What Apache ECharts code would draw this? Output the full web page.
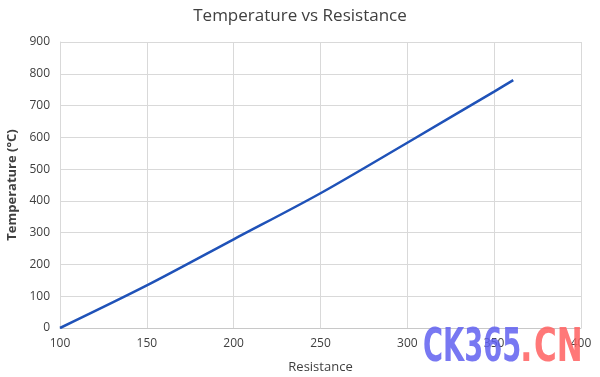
<!DOCTYPE html>
<html>
<head>
<meta charset="utf-8">
<script src="https://cdn.jsdelivr.net/npm/echarts@6/dist/echarts.min.js"></script>
<style>
  html, body { margin: 0; padding: 0; background: #fff; }
  #chart { width: 600px; height: 377px; }
</style>
</head>
<body>
<div id="chart"></div>
<script>
// readings
const resistance = [100, 150, 200, 250, 300, 350, 361];
const temperature = [0, 134, 279, 424, 583, 744, 780];

const xTicks = [100, 150, 200, 250, 300, 350, 400];
const yTicks = [0, 100, 200, 300, 400, 500, 600, 700, 800, 900];

const labelFont = 'Open Sans';
const markFont = 'DejaVu Sans Condensed';

const chart = echarts.init(document.getElementById('chart'));

function markText(text, x, scaleX, fill) {
  return {
    type: 'text',
    x: x,
    y: 349,
    scaleX: scaleX,
    z: 10,
    style: {
      text: text,
      fontFamily: markFont,
      fontWeight: 'bold',
      fontSize: 46,
      verticalAlign: 'middle',
      fill: fill
    }
  };
}

chart.setOption({
  animation: false,
  title: {
    text: 'Temperature vs Resistance',
    left: 'center',
    top: 3,
    textStyle: {
      fontFamily: labelFont,
      fontSize: 17,
      fontWeight: 'normal',
      color: '#404040'
    }
  },
  grid: {
    left: 60,
    right: 19,
    top: 42,
    bottom: 49,
    outerBoundsMode: 'none'
  },
  xAxis: {
    type: 'value',
    min: xTicks[0],
    max: xTicks[xTicks.length - 1],
    interval: 50,
    name: 'Resistance',
    nameLocation: 'center',
    nameGap: 33,
    nameTextStyle: {
      fontFamily: labelFont,
      fontSize: 13,
      color: '#404040'
    },
    axisLabel: {
      fontFamily: labelFont,
      fontSize: 12,
      color: '#404040',
      margin: 10
    },
    axisTick: { show: false },
    axisLine: { lineStyle: { color: '#c8c8c8', width: 1 } },
    splitLine: { show: true, lineStyle: { color: '#d9d9d9', width: 1 } }
  },
  yAxis: {
    type: 'value',
    min: yTicks[0],
    max: yTicks[yTicks.length - 1],
    interval: 100,
    name: 'Temperature (°C)',
    nameLocation: 'center',
    nameGap: 40,
    nameTextStyle: {
      fontFamily: labelFont,
      fontSize: 13,
      fontWeight: 'bold',
      color: '#404040'
    },
    axisLabel: {
      fontFamily: labelFont,
      fontSize: 12,
      color: '#404040',
      margin: 10
    },
    axisTick: { show: false },
    axisLine: { show: true, lineStyle: { color: '#d9d9d9', width: 1 } },
    splitLine: { show: true, lineStyle: { color: '#d9d9d9', width: 1 } }
  },
  series: [{
    type: 'line',
    data: resistance.map((r, i) => [r, temperature[i]]),
    smooth: 0.3,
    showSymbol: false,
    lineStyle: { color: '#1f52b8', width: 2.5 },
    z: 3
  }],
  // watermark over the bottom-right corner
  graphic: [
    markText('CK365', 423, 0.66, 'rgba(96, 96, 240, 0.85)'),
    markText('.', 520, 0.8, 'rgba(255, 96, 96, 0.85)'),
    markText('CN', 534, 0.75, 'rgba(255, 96, 96, 0.85)')
  ]
});
</script>
</body>
</html>
